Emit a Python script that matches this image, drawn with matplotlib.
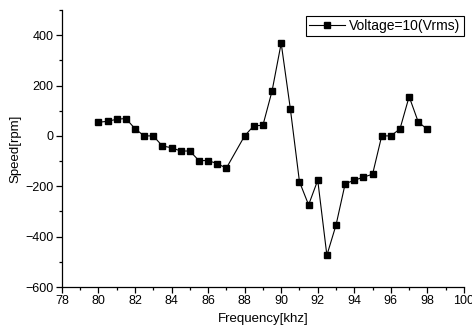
import matplotlib
matplotlib.use("Agg")
import matplotlib.pyplot as plt
from matplotlib.ticker import MultipleLocator

plt.rcParams['font.family'] = ['Liberation Sans', 'DejaVu Sans']

# frequency in khz and measured speed in rpm
freq = [80, 80.5, 81, 81.5, 82, 82.5, 83, 83.5, 84, 84.5, 85, 85.5, 86, 86.5, 87,
        88, 88.5, 89, 89.5, 90, 90.5, 91, 91.5, 92, 92.5, 93, 93.5, 94, 94.5, 95,
        95.5, 96, 96.5, 97, 97.5, 98]
speed = [54, 58, 66, 69, 29, 0, 0, -40, -47, -60, -60, -98, -98, -110, -128,
         0, 40, 42, 178, 368, 108, -182, -274, -176, -474, -354, -190, -176, -164, -152,
         0, 0, 28, 156, 55, 26]

fig = plt.figure(figsize=(4.72, 3.32), dpi=100)
ax = fig.add_axes([0.131, 0.1355, 0.852, 0.8345])

ax.plot(freq, speed, color='black', lw=0.8, marker='s', ms=4.8,
        label='Voltage=10(Vrms)')

ax.set_xlim(78, 100)
ax.set_ylim(-600, 500)
ax.xaxis.set_major_locator(MultipleLocator(2))
ax.xaxis.set_minor_locator(MultipleLocator(1))
ax.yaxis.set_minor_locator(MultipleLocator(100))
ax.set_yticks([-600, -400, -200, 0, 200, 400])

for s in ['top', 'right']:
    ax.spines[s].set_visible(False)
for s in ['left', 'bottom']:
    ax.spines[s].set_linewidth(0.9)
ax.tick_params(which='major', direction='out', length=4, width=0.9, labelsize=9, pad=2)
ax.tick_params(which='minor', direction='out', length=2.5, width=0.9)

ax.set_xlabel('Frequency[khz]', fontsize=9.5, labelpad=4)
ax.set_ylabel('Speed[rpm]', fontsize=9.5, labelpad=3)

leg = ax.legend(loc='upper right', bbox_to_anchor=(1.0, 0.98), fontsize=10,
                frameon=True, fancybox=False, framealpha=1, edgecolor='black',
                handlelength=2.6, handletextpad=0.3, borderpad=0.25,
                borderaxespad=0.0)
leg.get_frame().set_linewidth(0.8)

fig.savefig('out.png', dpi=100)
